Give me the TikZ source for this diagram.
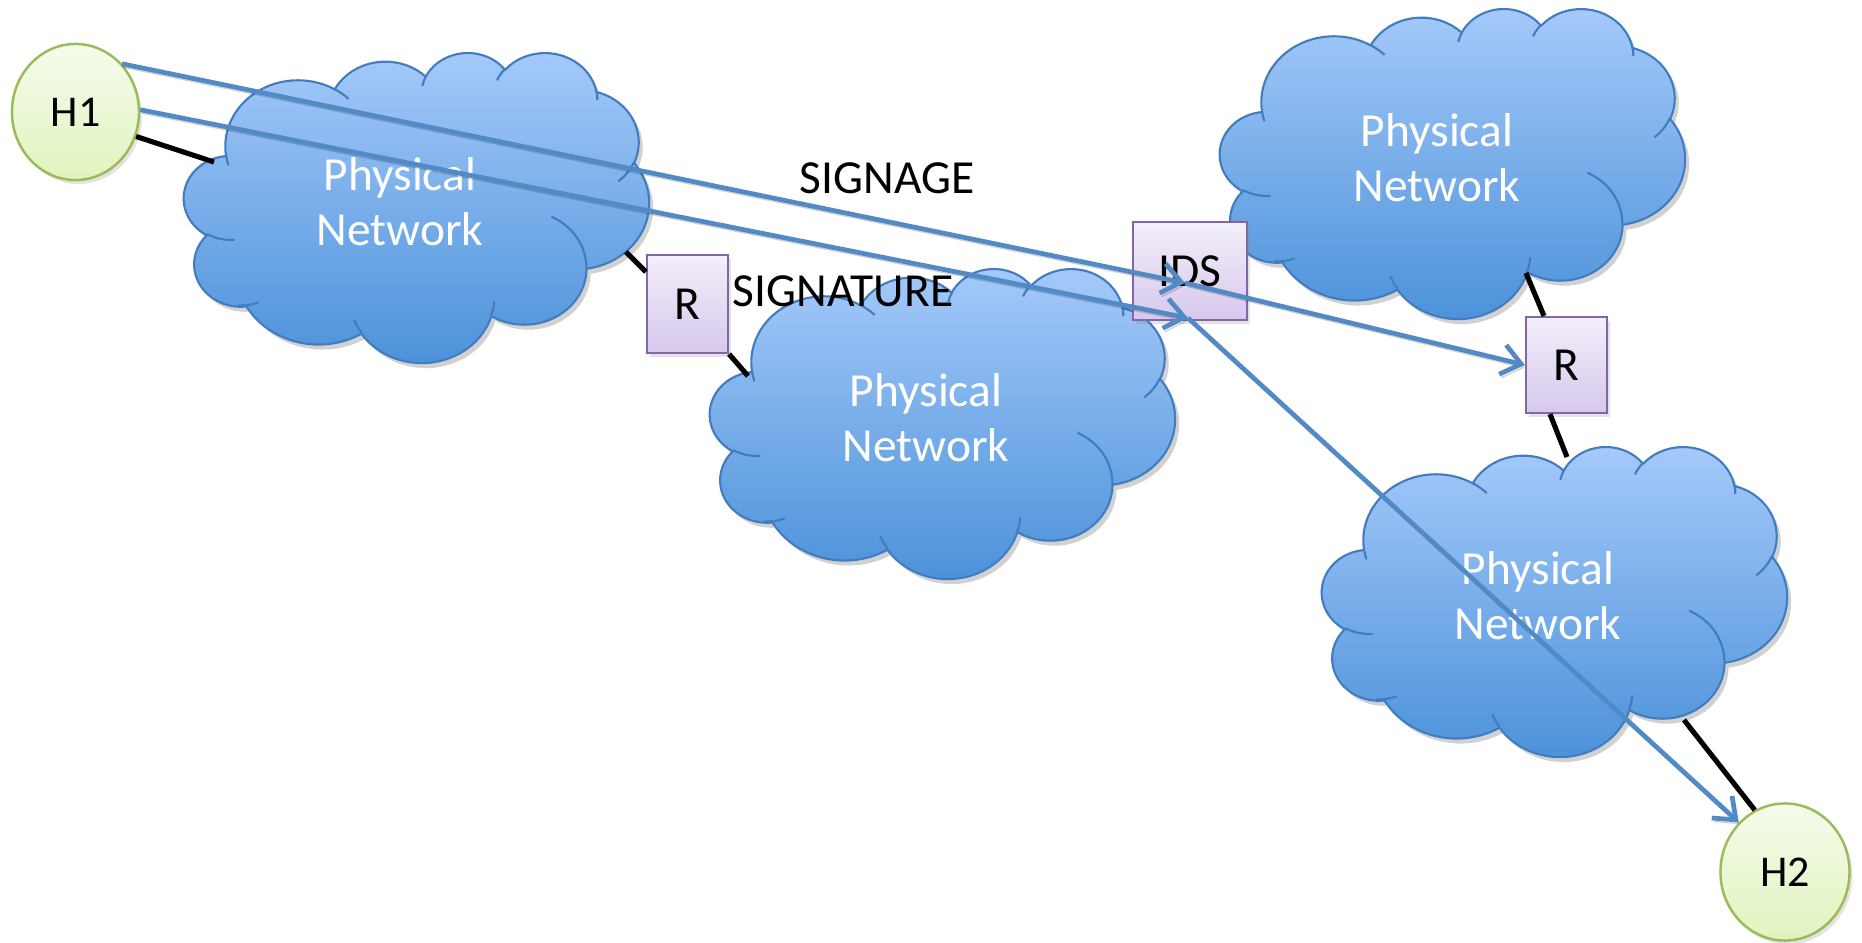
\documentclass[tikz,border=0pt]{standalone}
\usepackage{fontspec}
\setmainfont{Carlito}
\usetikzlibrary{shapes.geometric,arrows.meta,calc,shadows}
\definecolor{cloudtop}{RGB}{166,202,250}
\definecolor{cloudbot}{RGB}{74,145,217}
\definecolor{cloudedge}{RGB}{66,124,192}
\definecolor{boxtop}{RGB}{243,239,250}
\definecolor{boxbot}{RGB}{214,200,236}
\definecolor{boxedge}{RGB}{130,102,166}
\definecolor{hosttop}{RGB}{245,251,236}
\definecolor{hostbot}{RGB}{224,244,190}
\definecolor{hostedge}{RGB}{155,187,89}
\definecolor{flow}{RGB}{82,138,198}
\tikzset{
  cloudshape/.style={insert path={
    (39.00,143.70)
    arc[start angle=-187.74,end angle=-59.64,x radius=67.53,y radius=91.90]
    arc[start angle=-152.02,end angle=-45.45,x radius=53.33,y radius=72.67]
    arc[start angle=-153.49,end angle=-37.33,x radius=43.65,y radius=59.45]
    arc[start angle=-139.72,end angle=-10.22,x radius=48.57,y radius=65.95]
    arc[start angle=-74.77,end angle=23.21,x radius=53.33,y radius=72.73]
    arc[start angle=-37.51,end angle=81.86,x radius=67.75,y radius=92.20]
    arc[start angle=0.46,end angle=121.96,x radius=57.85,y radius=78.67]
    arc[start angle=16.85,end angle=146.23,x radius=67.52,y radius=92.15]
    arc[start angle=58.98,end angle=150.20,x radius=77.20,y radius=105.43]
    arc[start angle=-276.69,end angle=-136.88,x radius=43.60,y radius=59.18]
    arc[start angle=-239.64,end angle=-95.89,x radius=43.45,y radius=59.45]
    -- cycle}},
  cloudcreases/.style={insert path={
    (46.93,261.77) arc[start angle=85.54,end angle=120.36,x radius=43.45,y radius=59.45]
    (69.28,348.99) arc[start angle=68.23,end angle=93.73,x radius=43.60,y radius=59.18]
    (164.78,390.90) arc[start angle=146.23,end angle=158.48,x radius=67.52,y radius=92.15]
    (288.27,347.51) arc[start angle=4.74,end angle=16.85,x radius=67.52,y radius=92.15]
    (341.29,229.54) arc[start angle=-64.03,end angle=0.46,x radius=57.85,y radius=78.67]
    (417.98,153.54) arc[start angle=23.21,end angle=49.64,x radius=53.33,y radius=72.73]
    (383.24,54.26) arc[start angle=-10.22,end angle=0.82,x radius=48.57,y radius=65.95]
    (290.78,39.52) arc[start angle=-156.30,end angle=-139.72,x radius=48.57,y radius=65.95]
    (221.41,47.20) arc[start angle=-167.72,end angle=-153.49,x radius=43.65,y radius=59.45]
    (140.00,51.92) arc[start angle=-59.64,end angle=-45.74,x radius=67.53,y radius=91.90]
    (41.27,157.89) arc[start angle=163.19,end angle=172.25,x radius=67.53,y radius=91.90]
  }},
  cloudtext/.style={text=white,align=center,font=\fontsize{13.5}{15.6}\selectfont},
  label text/.style={text=black,font=\fontsize{13.5}{15.6}\selectfont},
  host/.style={ellipse,draw=hostedge,line width=0.7pt,top color=hosttop,bottom color=hostbot,
    inner sep=0pt,font=\fontsize{12.5}{14}\selectfont,
    drop shadow={opacity=0.22,shadow xshift=0.03cm,shadow yshift=-0.04cm}},
  device/.style={rectangle,draw=boxedge,line width=0.6pt,top color=boxtop,bottom color=boxbot,
    inner sep=0pt,font=\fontsize{13.5}{15}\selectfont,
    drop shadow={opacity=0.22,shadow xshift=0.03cm,shadow yshift=-0.04cm}},
  wire/.style={black,line width=1.45pt},
  flowarrow/.style={flow,line width=1.35pt,-{Straight Barb[length=1.9mm,width=3mm]},
    preaction={draw=black,opacity=0.18,transform canvas={xshift=0.02cm,yshift=-0.035cm}}}
}
\newcommand\netcloud[2]{%
  \begin{scope}[shift={(#1+4,#2+5)},xscale=1.0764,yscale=0.7176]
    \fill[black,opacity=0.18,cloudshape];
  \end{scope}
  \begin{scope}[shift={(#1,#2)},xscale=1.0764,yscale=0.7176]
    \path[top color=cloudtop,bottom color=cloudbot,draw=cloudedge,line width=0.6pt,cloudshape];
    \draw[cloudedge,line width=0.6pt,cloudcreases];
  \end{scope}}
\begin{document}
\begin{tikzpicture}[x=0.01cm,y=-0.01cm]
\useasboundingbox (0,0) rectangle (1862,943);
% clouds
\netcloud{184}{52}
\netcloud{710}{268}
\netcloud{1220}{8}
\netcloud{1322}{446}
\node[cloudtext] (C1) at (400,202) {Physical\\Network};
\node[cloudtext] (C2) at (926,418) {Physical\\Network};
\node[cloudtext] (C3) at (1437,158) {Physical\\Network};
\node[cloudtext] (C4) at (1538,596) {Physical\\Network};
% devices
\node[device,minimum width=0.81cm,minimum height=0.98cm] (R1) at (687.5,304) {R};
\node[device,minimum width=1.14cm,minimum height=0.98cm] (IDS) at (1190,271) {IDS};
\node[device,minimum width=0.81cm,minimum height=0.96cm] (R2) at (1566.5,365) {R};
\node[host,minimum width=1.27cm,minimum height=1.36cm] (H1) at (75.5,112) {H1};
\node[host,minimum width=1.29cm,minimum height=1.37cm] (H2) at (1785,872) {H2};
% cloud attachment points
\coordinate (c1a) at (214,162);
\coordinate (c1b) at (626,252);
\coordinate (c2a) at (748,376);
\coordinate (c3a) at (1526,273);
\coordinate (c4a) at (1567,457);
\coordinate (c4b) at (1684,720);
% physical links
\draw[wire] (H1.-22) -- (c1a);
\draw[wire] (c1b) -- ([yshift=-0.18cm]R1.north west);
\draw[wire] (R1.south east) -- (c2a);
\draw[wire] (c3a) -- ([xshift=-0.225cm]R2.north);
\draw[wire] ([xshift=-0.165cm]R2.south) -- (c4a);
\draw[wire] (c4b) -- (H2.116);
% labels
\node[label text] (signage) at (887,178) {SIGNAGE};
\node[label text] (signature) at (843,291) {SIGNATURE};
% flows
\coordinate (ids1) at (1185,283);
\coordinate (ids2) at (1188,318);
\draw[flowarrow] (H1.46) -- (ids1);
\draw[flowarrow] (H1.2) -- (ids2);
\draw[flowarrow] (ids1) -- (R2.west);
\draw[flowarrow] (ids2) -- (H2.133);
\end{tikzpicture}
\end{document}
